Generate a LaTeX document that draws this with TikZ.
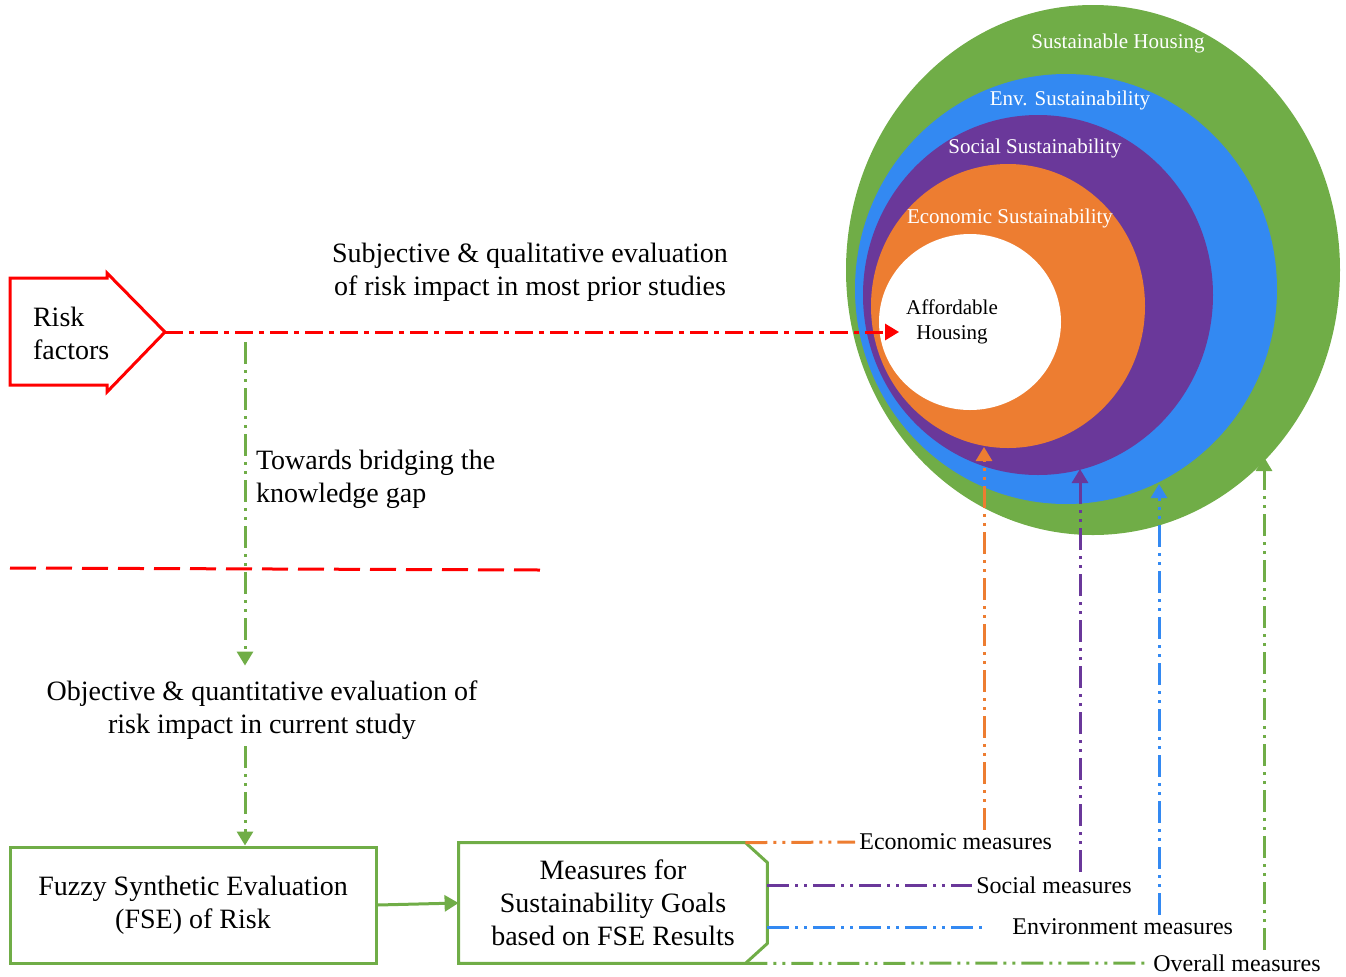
\documentclass[tikz,border=0pt]{standalone}
\usepackage{fontspec}
\setmainfont{Liberation Serif}
\usetikzlibrary{arrows.meta, shapes.geometric}

\definecolor{shgreen}{HTML}{70AD47}
\definecolor{envblue}{HTML}{3389F2}
\definecolor{socpurple}{HTML}{6A389A}
\definecolor{ecoorange}{HTML}{ED7D31}

\tikzset{
  ring/.style={ellipse, draw=none, inner sep=0pt},
  ringlbl/.style={text=white, font=\fontsize{10.5}{12.5}\selectfont},
  gbox/.style={draw=shgreen, line width=1.5pt, minimum width=183pt, minimum height=58pt, align=center},
  mlbl/.style={font=\fontsize{12}{14}\selectfont, anchor=west, inner sep=2pt},
  wire/.style={line width=1.5pt},
  tipA/.style={-{Triangle[width=8pt,length=7pt]}},
  dashdot/.style={dash pattern=on 9pt off 3pt on 2.5pt off 3pt},
  dashdotdot/.style={dash pattern=on 11pt off 3pt on 1.5pt off 3pt on 1.5pt off 3pt},
  longdash/.style={dash pattern=on 13pt off 5pt},
}

\begin{document}
\begin{tikzpicture}[x=0.5pt, y=-0.5pt, font=\fontsize{14}{16.5}\selectfont]
  \useasboundingbox (0,0) rectangle (1346,976);

  % nested sustainability rings
  \node[ring, fill=shgreen, minimum width=247pt, minimum height=265pt] (sh) at (1093,270) {};
  \node[ring, fill=envblue, minimum width=211pt, minimum height=215pt] (env) at (1066,289) {};
  \node[ring, fill=socpurple, minimum width=175pt, minimum height=180pt] (soc) at (1038,295) {};
  \node[ring, fill=ecoorange, minimum width=137pt, minimum height=142pt] (eco) at (1008,306) {};
  \node[ring, fill=white, minimum width=91pt, minimum height=88pt] (core) at (970,322) {};
  \node[ringlbl] (shlbl) at (1118,43) {Sustainable Housing};
  \node[ringlbl] (envlbl) at (1070,100) {Env. Sustainability};
  \node[ringlbl] (soclbl) at (1035,148) {Social Sustainability};
  \node[ringlbl] (ecolbl) at (1010,218) {Economic Sustainability};
  \node[align=center, font=\fontsize{10.5}{12.5}\selectfont] (afftxt) at (952,322) {Affordable\\Housing};

  % risk factors and prior studies
  \node[align=left, anchor=west] (risk) at (26,333) {Risk\\factors};
  \draw[red, wire] (10,278) -- (107,278) -- (107,273) -- (165,332) -- (107,392) -- (107,385) -- (10,385) -- cycle;
  \coordinate (risktip) at (165,332);
  \node[align=center] (prior) at (530,272) {Subjective \& qualitative evaluation\\of risk impact in most prior studies};
  \draw[red, wire, dashdot, -{Triangle[width=8pt,length=7pt]}] (risktip) -- (risktip -| afftxt.west);

  % towards current study
  \coordinate (branch) at (245,342);
  \node[align=left, anchor=west] (bridge) at (249,479) {Towards bridging the\\knowledge gap};
  \coordinate (divl) at (10,568);
  \coordinate (divr) at (540,570);
  \draw[red, wire, longdash] (divl) -- (divr);
  \node[align=center] (obj) at (262,710) {Objective \& quantitative evaluation of\\risk impact in current study};
  \draw[shgreen, wire, dashdotdot, tipA, shorten >=4pt] (branch) -- (branch |- obj.north);

  \node[gbox] (fse) at (193,905) {Fuzzy Synthetic Evaluation\\(FSE) of Risk};
  \draw[shgreen, wire, dashdotdot, tipA] (obj.south -| branch) -- (fse.north -| branch);

  \node[align=center, minimum width=154pt, minimum height=60pt] (meas) at (613,903) {Measures for\\Sustainability Goals\\based on FSE Results};
  \draw[shgreen, wire] (meas.north west) -- ([xshift=-11pt]meas.north east) -- ([yshift=-10pt]meas.north east)
    -- ([yshift=10pt]meas.south east) -- ([xshift=-11pt]meas.south east) -- (meas.south west) -- cycle;
  \draw[shgreen, wire, tipA] (fse.east) -- (meas.west);

  % measures back to the rings
  \coordinate (ecotip) at (984,447);
  \coordinate (soctip) at (1080,469);
  \coordinate (envtip) at (1159,484);
  \coordinate (alltip) at (1264,457);
  \node[mlbl] (ecom) at (855,842) {Economic measures};
  \node[mlbl] (socm) at (972,885) {Social measures};
  \node[mlbl] (envm) at (1008,927) {Environment measures};
  \node[mlbl] (allm) at (1149,963) {Overall measures};

  \draw[ecoorange, wire, dashdotdot] ([xshift=-11pt]meas.north east) -- (ecom.west);
  \draw[ecoorange, wire, dashdotdot, tipA] (ecom.north -| ecotip) -- (ecotip);
  \draw[socpurple, wire, dashdotdot] (socm.west -| meas.east) -- (socm.west);
  \draw[socpurple, wire, dashdotdot, tipA] (socm.north -| soctip) -- (soctip);
  \draw[envblue, wire, dashdotdot] (envm.west -| meas.east) -- ([xshift=-12pt]envm.west);
  \draw[envblue, wire, dashdotdot, tipA] (envm.north -| envtip) -- (envtip);
  \draw[shgreen, wire, dashdotdot] ([xshift=-11pt]meas.south east) -- (allm.west);
  \draw[shgreen, wire, dashdotdot, tipA] (allm.north -| alltip) -- (alltip);
\end{tikzpicture}
\end{document}
